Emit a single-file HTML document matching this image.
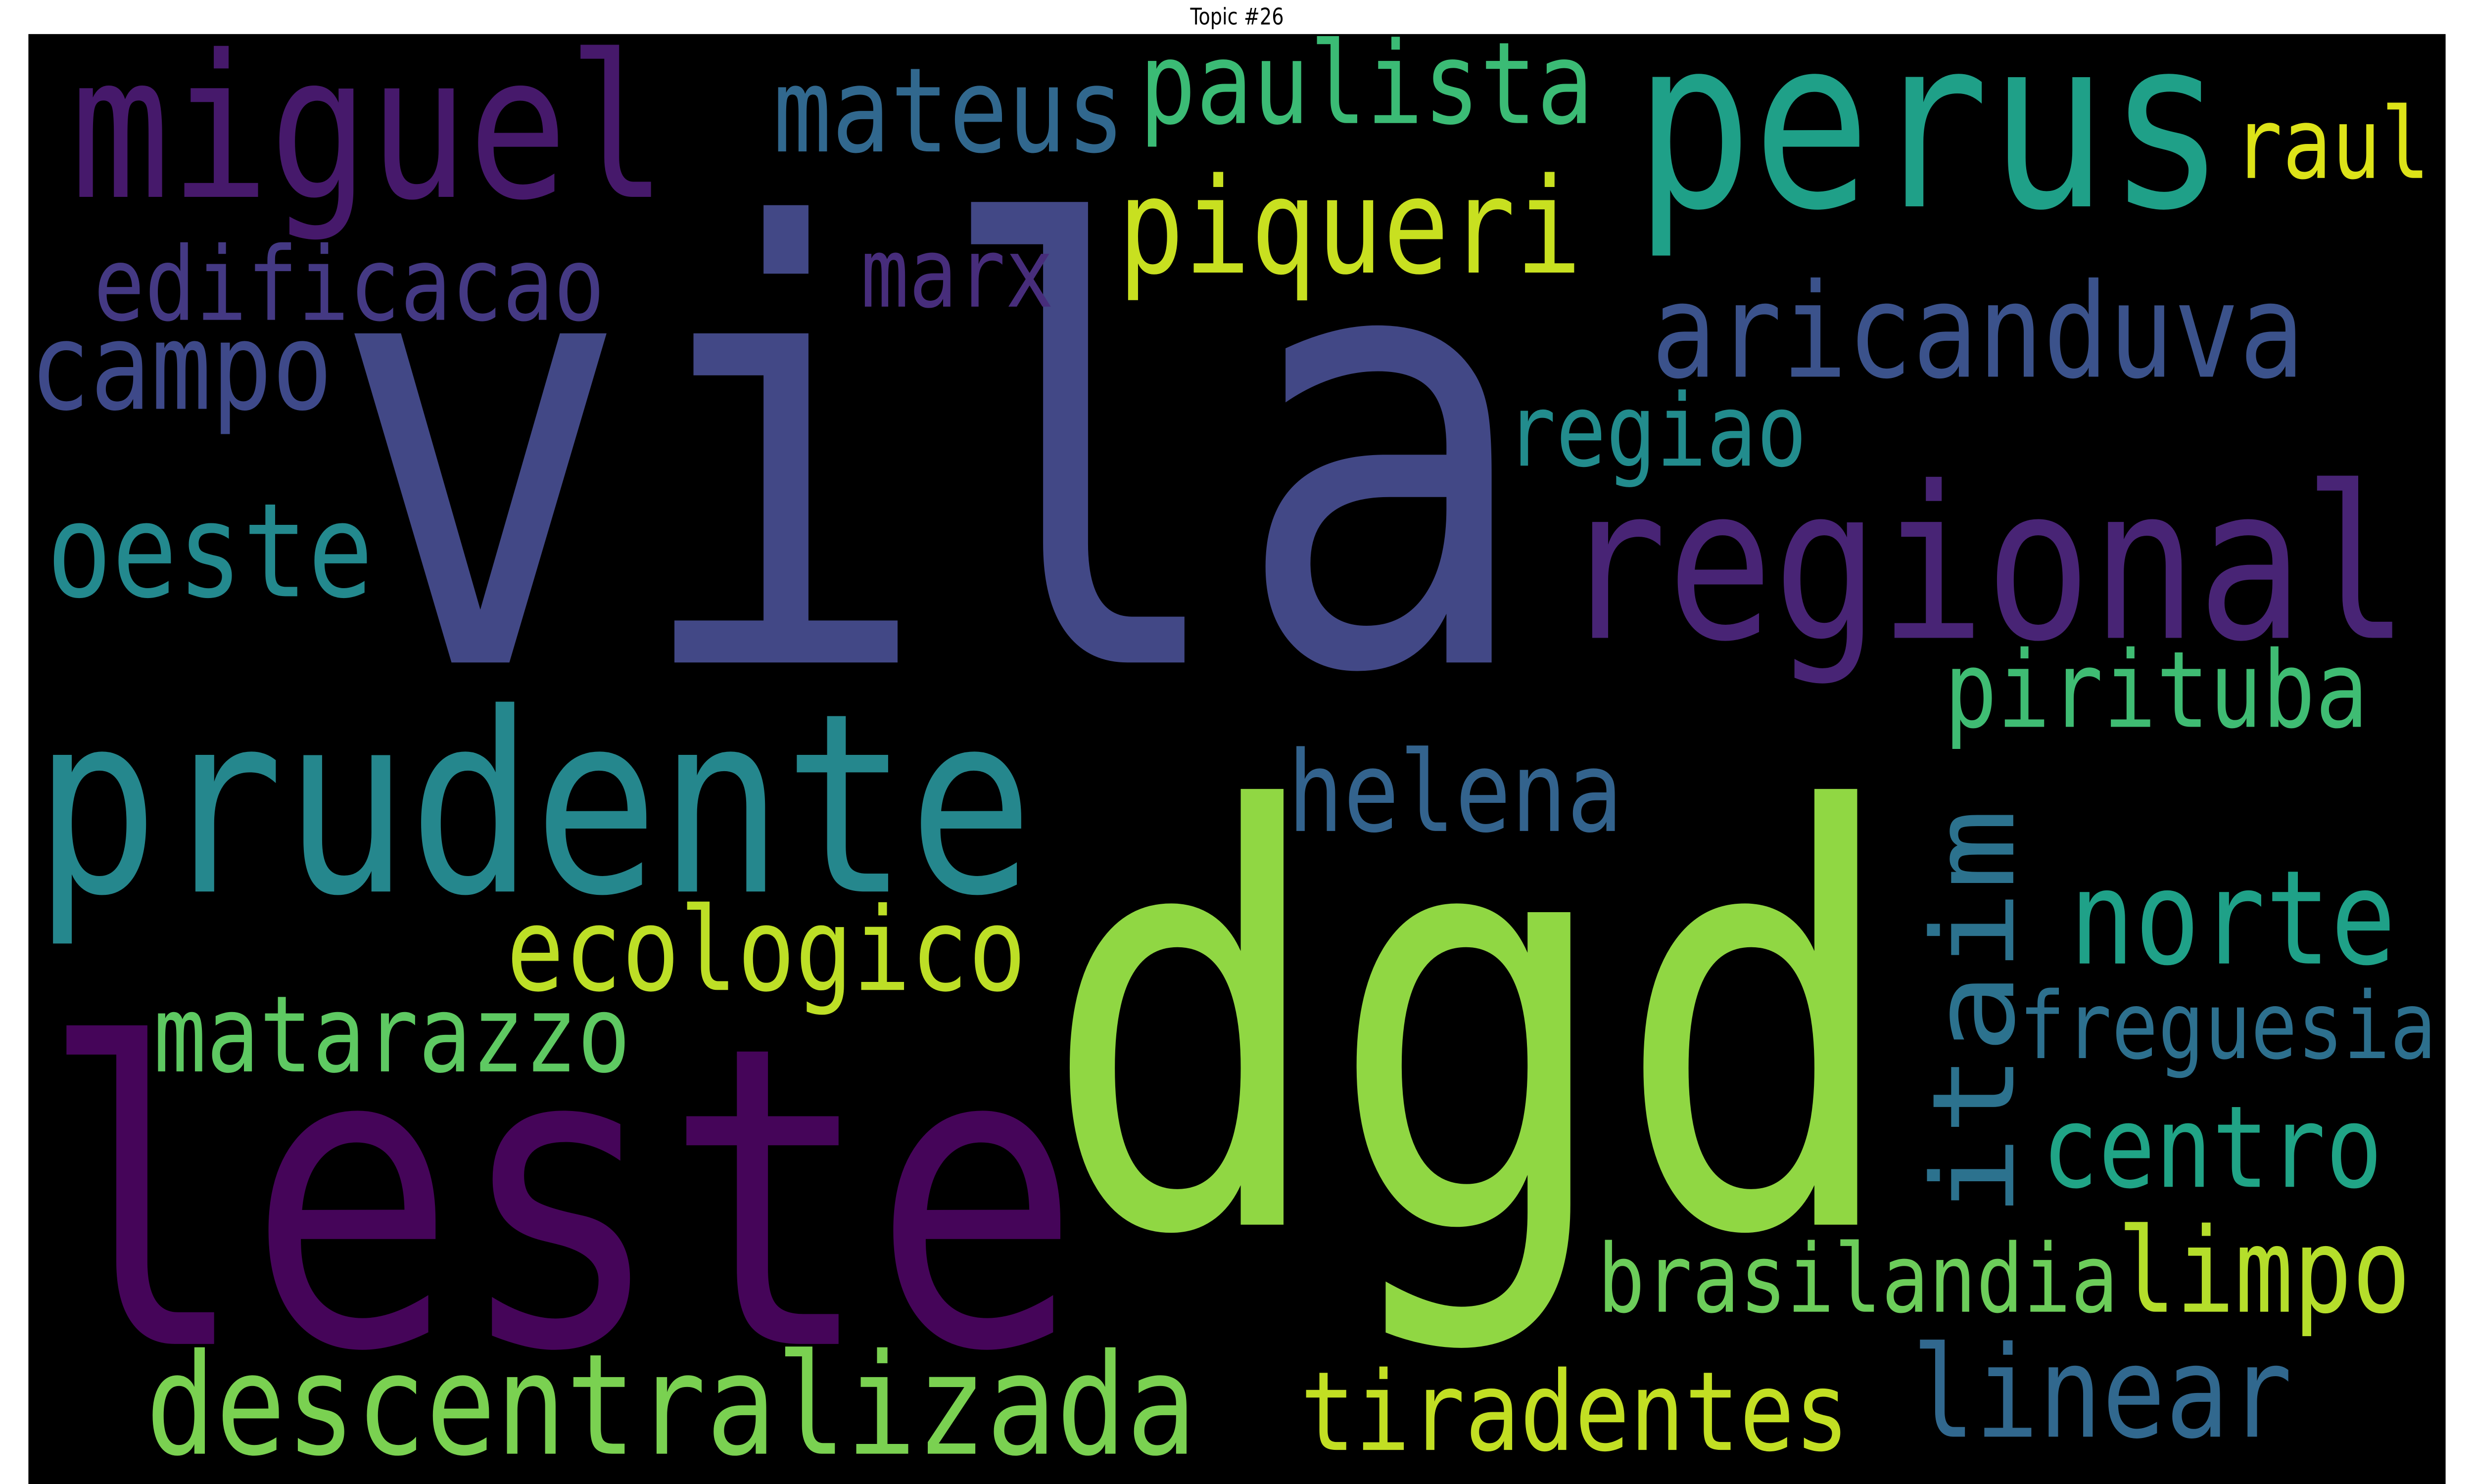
<!DOCTYPE html>
<html>
<head>
<meta charset="utf-8">
<style>
html,body{margin:0;padding:0;background:#fff;width:100vw;height:100vh;overflow:hidden;}
svg{display:block;position:absolute;left:0;top:0;width:100vw;height:100vh;}
</style>
</head>
<body>
<svg id="cloud" xmlns="http://www.w3.org/2000/svg" viewBox="0 0 1568 784" preserveAspectRatio="none">
  <rect x="0" y="0" width="1568" height="784" fill="#ffffff"/>
  <text x="784" y="13" text-anchor="middle" font-family="'DejaVu Sans','Liberation Sans',sans-serif" font-size="12" fill="#000">Topic #26</text>
  <rect x="18" y="18" width="1532" height="766" fill="#000000"/>
  <g id="words"></g>
</svg>
<script>
const words = ["vila","dgd","leste","prudente","regional","perus","miguel","mateus","paulista","piqueri","raul","edificacao","marx","campo","aricanduva","regiao","oeste","pirituba","helena","norte","ecologico","itaim","matarazzo","freguesia","centro","brasilandia","limpo","descentralizada","tiradentes","linear"];
const sizes = [318,303,220,132,112,125,105,62,60,70,52,54,51,64,69,53,69,56,59,69,61,72,56,49,60,50,62,74,58,67];
const colors = ["#424886","#90d743","#450559","#25878d","#482475","#1fa088","#46196b","#31688e","#3bbb75","#c8e020","#dde318","#443983","#472d7b","#3e4989","#3b528b","#228c8d","#23898e","#3fbc73","#33638d","#1fa188","#bddf26","#2c728e","#5ec962","#2d708e","#20a486","#6ccd5a","#b5de2b","#7ad151","#c2df23","#31688e"];
const inkLefts = [225,675,36,28,995,1042,50,493,725,712,1418,62,548,22,1050,957,33,1235,819,1315,324,639.5,100,1282,1297,1015,1345,96,827,1215];
const baselines = [350,647,710,471,337,109,104,80,65,144,94,169,162,216,199,246,315,384,439,509,523,1276,566,559,627,693,693,768,766,759];
const rotated = [0,0,0,0,0,0,0,0,0,0,0,0,0,0,0,0,0,0,0,0,0,1,0,0,0,0,0,0,0,0];
const g = document.getElementById('words');
const NS = "http://www.w3.org/2000/svg";
for (let i = 0; i < words.length; i++) {
  const t = document.createElementNS(NS, 'text');
  
  
  t.setAttribute('font-family', "'DejaVu Sans Mono','Liberation Mono',monospace");
  t.setAttribute('font-size', sizes[i]);
  t.setAttribute('fill', colors[i]);
  t.setAttribute('textLength', 0.6 * words[i].length * sizes[i]);
  t.setAttribute('lengthAdjust', 'spacingAndGlyphs');
  const bearing = 0.05 * sizes[i];
  if (rotated[i]) {
    t.setAttribute('x', 0);
    t.setAttribute('y', 0);
    t.setAttribute('transform', 'translate(' + baselines[i] + ',' + (inkLefts[i] + bearing) + ') rotate(-90)');
  } else {
    t.setAttribute('x', inkLefts[i] - bearing);
    t.setAttribute('y', baselines[i]);
  }
  t.textContent = words[i];
  g.appendChild(t);
}
</script>
</body>
</html>
